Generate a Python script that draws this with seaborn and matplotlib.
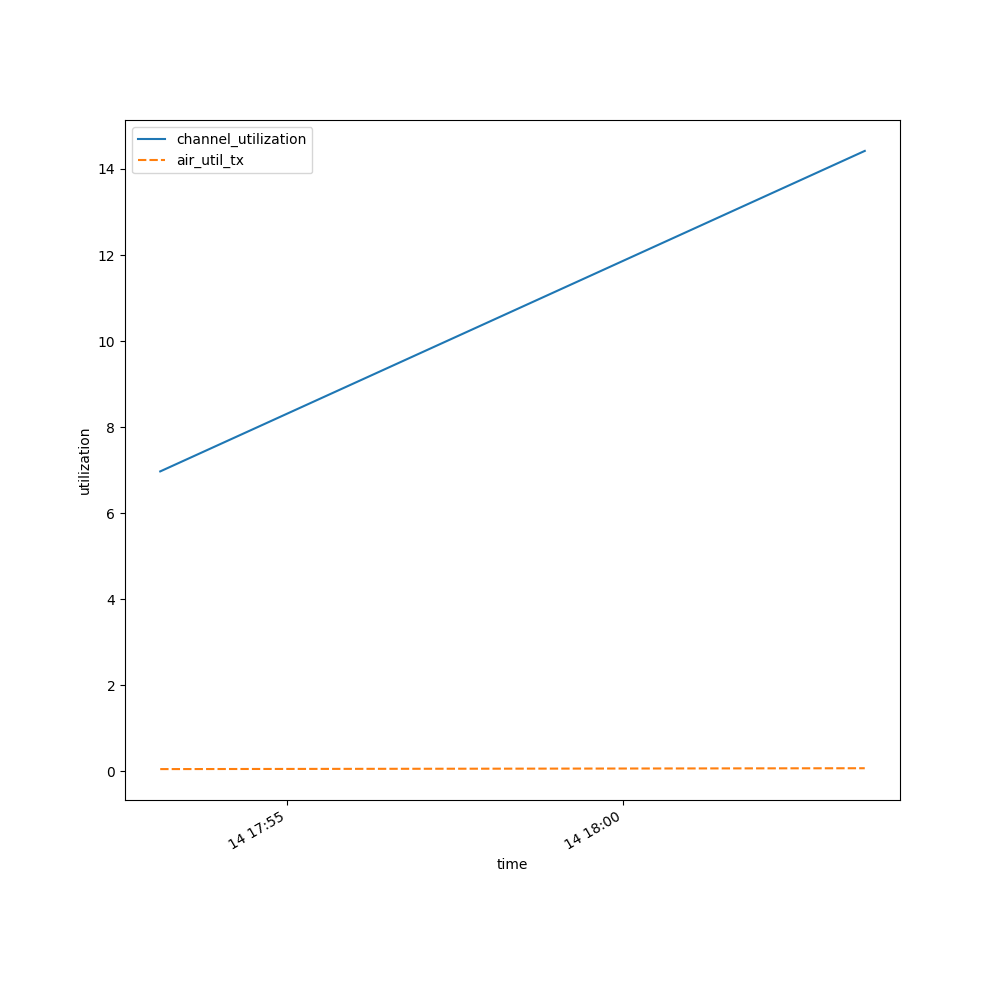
import matplotlib
matplotlib.use("Agg")
import matplotlib.pyplot as plt
import seaborn as sns
import pandas as pd

times = ["2024-01-14 17:53:07", "2024-01-14 18:03:36"]
channel_utilization = [6.97, 14.42]
air_util_tx = [0.05, 0.07]

df = pd.DataFrame(
    {"channel_utilization": channel_utilization, "air_util_tx": air_util_tx},
    index=pd.to_datetime(times),
)
df.index.name = "time"

fig, ax = plt.subplots(figsize=(10, 10), dpi=100)
sns.lineplot(data=df, ax=ax)
ax.set_xlabel("time")
ax.set_ylabel("utilization")
fig.autofmt_xdate()
fig.savefig("out.png", dpi=100)
